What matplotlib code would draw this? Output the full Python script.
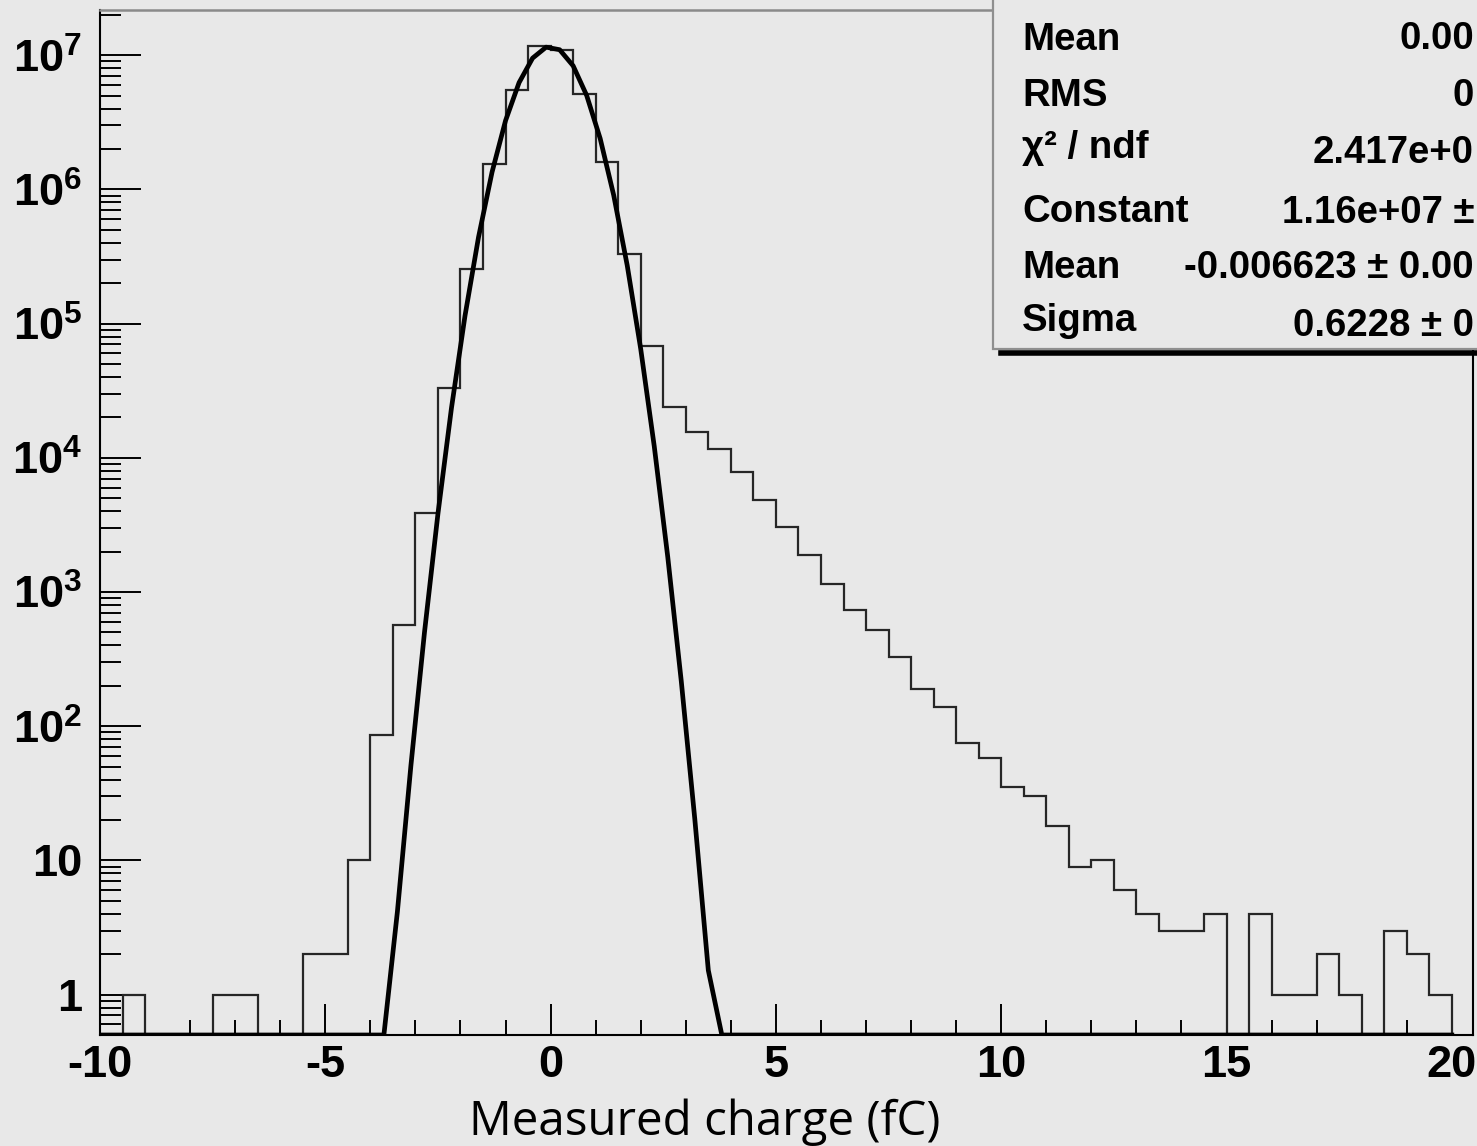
import numpy as np
import matplotlib
matplotlib.use("Agg")
import matplotlib.pyplot as plt
from matplotlib.ticker import FixedLocator, FixedFormatter, LogLocator, NullFormatter, MultipleLocator
from matplotlib.patches import Rectangle
from matplotlib.lines import Line2D

plt.rcParams['font.family'] = ['Liberation Sans', 'DejaVu Sans']
plt.rcParams['mathtext.default'] = 'regular'

# ---------------- data ----------------
bin_edges_start = -10.0
bin_width = 0.5
counts = [
    0, 1, 0, 0, 0, 1, 1, 0, 0, 2,            # -10 .. -5.5
    2, 10, 86, 570, 3850, 33200, 254000, 1540000, 5500000, 11700000,   # -5 .. -0.5
    10900000, 5100000, 1590000, 328000, 68000, 23800, 15500, 11600, 7900, 4840,  # 0 .. 4.5
    3060, 1880, 1140, 733, 520, 326, 190, 140, 75, 58,   # 5 .. 9.5
    35, 30, 18, 9, 10, 6, 4, 3, 3, 4,        # 10 .. 14.5
    0, 4, 1, 1, 2, 1, 0, 3, 2, 1,            # 15 .. 19.5
]
fit_constant = 1.16e7
fit_mean = -0.006623
fit_sigma = 0.6228
fit_range = (-10.0, 20.0)
fit_npx = 100

stat_labels = ["Mean", "RMS", "\u03c7\u00b2 / ndf", "Constant", "Mean", "Sigma"]
stat_values = ["0.00", "0", "2.417e+0", "1.16e+07 \u00b1", "-0.006623 \u00b1 0.00", "0.6228 \u00b1 0"]

y_ticks = [1, 10, 1e2, 1e3, 1e4, 1e5, 1e6, 1e7]
y_ticklabels = ["1", "10", "$10^{2}$", "$10^{3}$", "$10^{4}$", "$10^{5}$", "$10^{6}$", "$10^{7}$"]
x_ticks = [-10, -5, 0, 5, 10, 15, 20]
x_ticklabels = ["-10", "-5", "0", "5", "10", "15", "20"]
x_label = "Measured charge (fC)"

# ---------------- figure ----------------
W, H = 1477, 1146
BG = '#e8e8e8'
fig = plt.figure(figsize=(W / 100, H / 100), dpi=100, facecolor=BG)
ax = fig.add_axes([100 / W, 1 - 1035 / H, (1473 - 100) / W, (1035 - 10) / H])
ax.set_facecolor(BG)
ax.set_yscale('log')
ymin, ymax = 0.5, 2.17e7
ax.set_xlim(-10, 20.47)
ax.set_ylim(ymin, ymax)

edges = bin_edges_start + bin_width * np.arange(len(counts) + 1)
ax.stairs(np.array(counts, dtype=float), edges, baseline=ymin * 0.5,
          color='#262626', linewidth=1.6, zorder=3)

# fit curve, sampled like ROOT (npx points), clamped to the pad minimum
xf = np.linspace(fit_range[0], fit_range[1], fit_npx + 1)
yf = fit_constant * np.exp(-0.5 * ((xf - fit_mean) / fit_sigma) ** 2)
yf = np.maximum(yf, ymin)
ax.plot(xf, yf, color='black', linewidth=3.4, zorder=4, clip_on=True,
        solid_joinstyle='round')

# spines
for s in ['left', 'right', 'bottom']:
    ax.spines[s].set_color('black')
    ax.spines[s].set_linewidth(1.5)
ax.spines['top'].set_color('#8a8a8a')
ax.spines['top'].set_linewidth(1.8)

# y ticks
ax.yaxis.set_major_locator(FixedLocator(y_ticks))
ax.yaxis.set_major_formatter(FixedFormatter(y_ticklabels))
ax.yaxis.set_minor_locator(LogLocator(base=10, subs=np.arange(2, 10), numticks=20))
ax.yaxis.set_minor_formatter(NullFormatter())
ax.tick_params(axis='y', which='major', direction='in', length=29.5, width=1.4,
               pad=13, labelsize=32.5, color='black')
ax.tick_params(axis='y', which='minor', direction='in', length=14.8, width=1.4, color='black')

# x ticks
ax.xaxis.set_major_locator(FixedLocator(x_ticks))
ax.xaxis.set_major_formatter(FixedFormatter(x_ticklabels))
ax.xaxis.set_minor_locator(MultipleLocator(1))
ax.tick_params(axis='x', which='major', direction='in', length=22, width=1.4,
               pad=7, labelsize=32.5, color='black')
ax.tick_params(axis='x', which='minor', direction='in', length=11, width=1.4, color='black')
for lab in ax.get_xticklabels() + ax.get_yticklabels():
    lab.set_fontweight('bold')

fig.text(705 / W, 1 - 1135 / H, x_label, ha='center', va='baseline',
         fontsize=34.2, family=['Open Sans', 'DejaVu Sans'], color='black')

# stats box (extends past the right/top edge of the picture)
box = Rectangle((993 / W, 1 - 349 / H), 0.5, 0.5, transform=fig.transFigure,
                facecolor=BG, edgecolor='#8f8f8f', linewidth=1.6, zorder=5)
fig.add_artist(box)
fig.add_artist(Line2D([1001 / W, 1.01], [1 - 353 / H, 1 - 353 / H], transform=fig.transFigure,
                      color='black', linewidth=4.0, zorder=6))

label_baselines = [50, 106, 158, 222, 278, 331]
value_baselines = [49, 106, 163, 223, 278, 336]
for lab, yb in zip(stat_labels, label_baselines):
    fig.text(1022 / W, 1 - yb / H, lab, ha='left', va='baseline', fontsize=27.6,
             fontweight='bold', color='black', zorder=7)
for val, yb in zip(stat_values, value_baselines):
    fig.text(1474 / W, 1 - yb / H, val, ha='right', va='baseline', fontsize=27.6,
             fontweight='bold', color='black', zorder=7)

fig.savefig('out.png', dpi=100, facecolor=BG)
